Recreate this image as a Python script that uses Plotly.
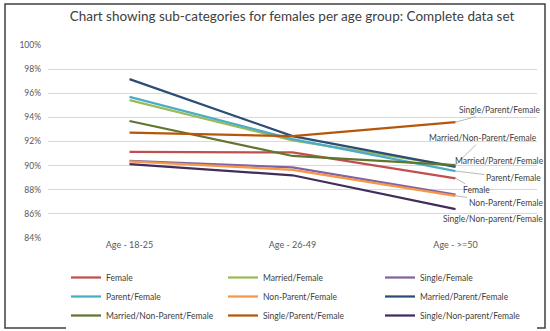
import plotly.graph_objects as go

categories = ["Age - 18-25", "Age - 26-49", "Age - >=50"]

female = [91.13, 91.10, 88.95]
married_female = [95.43, 92.10, 89.95]
single_female = [90.40, 89.85, 87.60]
parent_female = [95.70, 92.20, 89.55]
nonparent_female = [90.35, 89.65, 87.50]
married_parent_female = [97.17, 92.45, 89.90]
married_nonparent_female = [93.70, 90.80, 90.05]
single_parent_female = [92.73, 92.45, 93.60]
single_nonparent_female = [90.12, 89.20, 86.40]

series_names = ["Female", "Married/Female", "Single/Female", "Parent/Female",
                "Non-Parent/Female", "Married/Parent/Female", "Married/Non-Parent/Female",
                "Single/Parent/Female", "Single/Non-parent/Female"]
series_values = [female, married_female, single_female, parent_female, nonparent_female,
                 married_parent_female, married_nonparent_female, single_parent_female,
                 single_nonparent_female]
colors = ["#C0504D", "#9BBB59", "#8064A2", "#4BACC6", "#F79646",
          "#2C4D75", "#5F7530", "#B65708", "#3F2D5C"]

FONT = "Lato"
fig = go.Figure()
for name, vals, c in zip(series_names, series_values, colors):
    fig.add_trace(go.Scatter(x=categories, y=[v / 100 for v in vals], mode="lines", name=name,
                             line=dict(color=c, width=2.25)))

# end labels: (series index, ax, ay, leader)
end_labels = [
    (7, 44, -12, True),
    (6, 27, -27, True),
    (5, 44, -5.5, True),
    (3, 58, 7, True),
    (0, 21, 12, True),
    (4, 50, 7, True),
    (8, 37, 9.5, False),
]
for idx, ax, ay, leader in end_labels:
    fig.add_annotation(x=categories[-1], y=series_values[idx][-1] / 100, text=series_names[idx],
                       showarrow=True, ax=ax, ay=ay, arrowhead=0, arrowwidth=0.8,
                       arrowcolor="#A6A6A6" if leader else "rgba(0,0,0,0)", standoff=0,
                       font=dict(family=FONT, size=8.5, color="#404040"))

fig.update_layout(
    width=550, height=331,
    margin=dict(l=48, r=13, t=45, b=93, autoexpand=False),
    paper_bgcolor="white", plot_bgcolor="white",
    title=dict(text="Chart showing sub-categories for females per age group: Complete data set",
               x=292 / 550, xanchor="center", y=1 - 16 / 331, yanchor="middle",
               font=dict(family=FONT, size=13.5, color="#404040")),
    font=dict(family=FONT, color="#595959"),
    showlegend=True,
    legend=dict(orientation="h", xref="container", x=66 / 550, xanchor="left",
                yref="container", y=1 - 263 / 331, yanchor="top",
                entrywidth=112, entrywidthmode="pixels", font=dict(family=FONT, size=8.5, color="#404040"),
                tracegroupgap=0, itemwidth=30),
    xaxis=dict(type="category", range=[-0.5, 2.5], showgrid=False, zeroline=False, showline=False,
               ticks="", automargin=False, tickfont=dict(family=FONT, size=9, color="#595959")),
    yaxis=dict(range=[0.84, 1.0], dtick=0.02, tickformat=".0%", showgrid=True, gridcolor="#D9D9D9",
               gridwidth=1, zeroline=False, showline=False, ticks="", ticklabelstandoff=6,
               automargin=False, tickfont=dict(family=FONT, size=8.5, color="#595959")),
    shapes=[dict(type="rect", xref="paper", yref="paper",
                 x0=-43 / 489, x1=1 + 8 / 489, y0=-90 / 193, y1=1 + 41 / 193,
                 line=dict(color="#404040", width=1.5))],
)

fig.write_html("out.html", config={"displayModeBar": False},
               post_script="document.body.style.margin='0px';")
